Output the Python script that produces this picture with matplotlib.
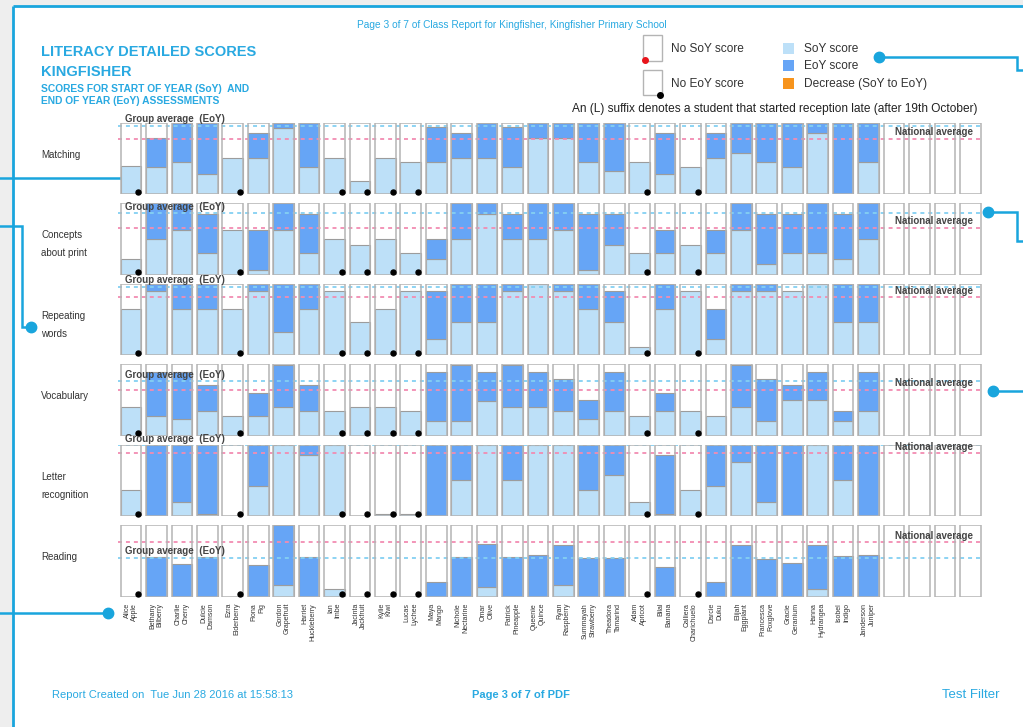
import numpy as np
import matplotlib
matplotlib.use("Agg")
import matplotlib.pyplot as plt
from matplotlib.patches import Rectangle

# ---------------- data ----------------
students = ["Alice\nApple", "Bethany\nBilberry", "Charlie\nCherry", "Dulcie\nDamson",
            "Ezra\nElderberry", "Fiona\nFig", "Gordon\nGrapefruit", "Harriet\nHuckleberry",
            "Ian\nImbe", "Jacinta\nJackfruit", "Kylie\nKiwi", "Lucas\nLychee",
            "Maya\nMango", "Nichole\nNectarine", "Omar\nOlive", "Patrick\nPineapple",
            "Queenie\nQuince", "Ryan\nRaspberry", "Summayah\nStrawberry", "Theadora\nTamarind",
            "Adam\nApricot", "Bilal\nBanana", "Calliera\nCharichuelo", "Darcie\nDuku",
            "Elijah\nEggplant", "Francesca\nFoxglove", "Gracie\nGeranium", "Hanna\nHydrangea",
            "Isobel\nIndigo", "Janderson\nJuniper"]
empty_slots = 4

skills = ["Matching", "Concepts\nabout print", "Repeating\nwords", "Vocabulary",
          "Letter\nrecognition", "Reading"]

matching_soy = [0.39, 0.38, 0.45, 0.28, 0.51, 0.51, 0.93, 0.38, 0.51, 0.18, 0.51, 0.45, 0.45, 0.51, 0.51,
                0.38, 0.78, 0.78, 0.45, 0.33, 0.45, 0.28, 0.38, 0.51, 0.57, 0.45, 0.38, 0.85, 0.00, 0.45]
matching_eoy = [None, 0.78, 1.0, 1.0, None, 0.86, 1.0, 1.0, None, None, None, None, 0.94, 0.86, 1.0,
                0.94, 1.0, 1.0, 1.0, 1.0, None, 0.86, None, 0.86, 1.0, 1.0, 1.0, 1.0, 1.0, 1.0]

concepts_soy = [0.22, 0.50, 0.62, 0.31, 0.62, 0.07, 0.62, 0.31, 0.50, 0.41, 0.50, 0.31, 0.22, 0.50, 0.85,
                0.50, 0.50, 0.62, 0.07, 0.41, 0.31, 0.31, 0.41, 0.31, 0.62, 0.15, 0.31, 0.31, 0.22, 0.50]
concepts_eoy = [None, 1.0, 1.0, 0.85, None, 0.62, 1.0, 0.85, None, None, None, None, 0.50, 1.0, 1.0,
                0.85, 1.0, 1.0, 0.85, 0.85, None, 0.62, None, 0.62, 1.0, 0.85, 0.85, 1.0, 0.85, 1.0]

repeating_soy = [0.64, 0.90, 0.64, 0.64, 0.64, 0.90, 0.33, 0.64, 0.90, 0.47, 0.64, 0.90, 0.22, 0.47, 0.47,
                 0.90, 1.0, 0.90, 0.64, 0.47, 0.11, 0.64, 0.90, 0.22, 0.90, 0.90, 0.90, 1.0, 0.47, 0.47]
repeating_eoy = [None, 1.0, 1.0, 1.0, None, 1.0, 1.0, 1.0, None, None, None, None, 0.90, 1.0, 1.0,
                 1.0, 1.0, 1.0, 1.0, 0.90, None, 1.0, None, 0.64, 1.0, 1.0, 0.90, 1.0, 1.0, 1.0]

vocab_soy = [0.40, 0.28, 0.24, 0.34, 0.28, 0.28, 0.40, 0.34, 0.34, 0.40, 0.40, 0.34, 0.21, 0.21, 0.49,
             0.40, 0.40, 0.34, 0.24, 0.34, 0.28, 0.34, 0.34, 0.28, 0.40, 0.21, 0.50, 0.50, 0.21, 0.34]
vocab_eoy = [None, 0.89, 0.89, 0.71, None, 0.60, 0.99, 0.71, None, None, None, None, 0.89, 0.99, 0.89,
             0.99, 0.89, 0.79, 0.50, 0.89, None, 0.60, None, 0.28, 0.99, 0.79, 0.71, 0.89, 0.34, 0.89]

letter_soy = [0.37, 0.0, 0.20, 0.03, 0.0, 0.42, 1.0, 0.85, 1.0, 0.0, 0.03, 0.03, 0.0, 0.50, 1.0,
              0.50, 1.0, 1.0, 0.37, 0.58, 0.20, 0.03, 0.37, 0.42, 0.76, 0.20, 0.0, 1.0, 0.50, 0.0]
letter_eoy = [None, 1.0, 1.0, 1.0, None, 1.0, 1.0, 1.0, None, None, None, None, 1.0, 1.0, 1.0,
              1.0, 1.0, 1.0, 1.0, 1.0, None, 0.85, None, 1.0, 1.0, 1.0, 1.0, 1.0, 1.0, 1.0]

reading_soy = [0.0, 0.0, 0.0, 0.0, 0.0, 0.0, 0.17, 0.0, 0.11, 0.0, 0.0, 0.0, 0.0, 0.0, 0.14,
               0.0, 0.0, 0.17, 0.0, 0.0, 0.0, 0.0, 0.0, 0.0, 0.0, 0.0, 0.0, 0.11, 0.0, 0.0]
reading_eoy = [None, 0.55, 0.46, 0.56, None, 0.44, 1.0, 0.55, None, None, None, None, 0.20, 0.55, 0.74,
               0.56, 0.59, 0.73, 0.54, 0.54, None, 0.42, None, 0.21, 0.73, 0.53, 0.47, 0.72, 0.57, 0.59]

group_avg = [0.96, 0.86, 0.96, 0.76, 0.99, 0.54]
national_avg = [0.77, 0.66, 0.81, 0.64, 0.88, 0.76]

soy_all = [matching_soy, concepts_soy, repeating_soy, vocab_soy, letter_soy, reading_soy]
eoy_all = [matching_eoy, concepts_eoy, repeating_eoy, vocab_eoy, letter_eoy, reading_eoy]

# ---------------- style ----------------
W, H = 1023, 727
plt.rcParams['font.family'] = ['Liberation Sans', 'DejaVu Sans']
C_TITLE = '#29a9e1'
C_LINE = '#19a5dd'
C_SOY = '#bde0f8'
C_EOY = '#66a5f6'
C_DEC = '#f7941d'
C_EDGE = '#b4b4b4'
C_GRP = '#84d0f2'
C_NAT = '#f28cb2'
C_TXT = '#333333'

fig = plt.figure(figsize=(W / 100, H / 100), dpi=100)
fig.patch.set_facecolor('#eeeeee')

bg = fig.add_axes([0, 0, 1, 1], zorder=-5)
bg.set_xlim(0, W)
bg.set_ylim(H, 0)
bg.axis('off')
bg.add_patch(Rectangle((13, 6), W, H, facecolor='white', edgecolor='none'))
# frame
bg.plot([13, W], [6, 6], color=C_LINE, lw=2.0, solid_capstyle='butt')
bg.plot([13, 13], [6, H], color=C_LINE, lw=2.0, solid_capstyle='butt')
# callout connectors
conn = dict(color=C_LINE, lw=1.8, solid_joinstyle='miter')
bg.plot([0, 126], [177.5, 177.5], **conn)
bg.plot([126], [177.5], 'o', color=C_LINE, ms=7.5)
bg.plot([0, 22, 22, 31], [226, 226, 326.5, 326.5], **conn)
bg.plot([31], [326.5], 'o', color=C_LINE, ms=7.5)
bg.plot([0, 108], [613, 613], **conn)
bg.plot([108], [613], 'o', color=C_LINE, ms=7.5)
bg.plot([879, 1017, 1017, W], [57, 57, 70, 70], **conn)
bg.plot([879], [57], 'o', color=C_LINE, ms=7.5)
bg.plot([988, 1017, 1017, W], [212, 212, 241, 241], **conn)
bg.plot([988], [212], 'o', color=C_LINE, ms=7.5)
bg.plot([993, W], [391, 391], **conn)
bg.plot([993], [391], 'o', color=C_LINE, ms=7.5)

# header texts
bg.text(512, 25, "Page 3 of 7 of Class Report for Kingfisher, Kingfisher Primary School",
        ha='center', va='center', fontsize=7.3, color=C_TITLE)
bg.text(41, 51.5, "LITERACY DETAILED SCORES", ha='left', va='center', fontsize=10.5,
        fontweight='bold', color=C_TITLE)
bg.text(41, 72, "KINGFISHER", ha='left', va='center', fontsize=10.5, fontweight='bold', color=C_TITLE)
bg.text(41, 88.5, "SCORES FOR START OF YEAR (SoY)  AND", ha='left', va='center', fontsize=7.4,
        fontweight='bold', color=C_TITLE)
bg.text(41, 101.5, "END OF YEAR (EoY) ASSESSMENTS", ha='left', va='center', fontsize=7.4,
        fontweight='bold', color=C_TITLE)

# legend
bg.add_patch(Rectangle((643, 35), 19, 25.5, facecolor='white', edgecolor=C_EDGE, lw=1))
bg.plot([644.5], [60], 'o', color='#e8141b', ms=4)
bg.add_patch(Rectangle((643, 70), 19, 25, facecolor='white', edgecolor=C_EDGE, lw=1))
bg.plot([659.5], [94.5], 'o', color='black', ms=4)
bg.text(671, 49.5, "No SoY score", ha='left', va='center', fontsize=8.6, color=C_TXT)
bg.text(671, 84, "No EoY score", ha='left', va='center', fontsize=8.6, color=C_TXT)
for yy, col, lab in [(48, C_SOY, "SoY score"), (65.5, C_EOY, "EoY score"),
                     (83, C_DEC, "Decrease (SoY to EoY)")]:
    bg.add_patch(Rectangle((783, yy - 5.5), 10.5, 11, facecolor=col, edgecolor='none'))
    bg.text(804, yy + 0.8, lab, ha='left', va='center', fontsize=8.6, color=C_TXT)
bg.text(977, 109, "An (L) suffix denotes a student that started reception late (after 19th October)",
        ha='right', va='center', fontsize=8.6, color='#222222')

# footer
bg.text(52, 695, "Report Created on  Tue Jun 28 2016 at 15:58:13", ha='left', va='center',
        fontsize=8, color=C_TITLE)
bg.text(521, 695, "Page 3 of 7 of PDF", ha='center', va='center', fontsize=8, fontweight='bold',
        color=C_TITLE)
bg.text(1000, 695, "Test Filter", ha='right', va='center', fontsize=9.5, color=C_TITLE)

# ---------------- panels ----------------
n_cols = len(students) + empty_slots
x_all = np.arange(n_cols)
x_st = np.arange(len(students))
bw = 0.814
ax_left, ax_right = 118.3, 983.0
panel_top0, pitch, panel_h = 122.7, 80.5, 71.5

for k, skill in enumerate(skills):
    top = panel_top0 + k * pitch
    ax = fig.add_axes([ax_left / W, 1 - (top + panel_h) / H, (ax_right - ax_left) / W, panel_h / H])
    ax.set_xlim(-0.5, n_cols - 0.5)
    ax.set_ylim(0, 1)
    ax.axis('off')
    soy = np.array(soy_all[k], dtype=float)
    eoy = np.array([np.nan if v is None else v for v in eoy_all[k]], dtype=float)

    ax.bar(x_all, 1.0, width=bw, color='white', edgecolor='none', zorder=1)
    ax.bar(x_st, soy, width=bw, color=C_SOY, edgecolor='#9c9c9c', lw=0.8, zorder=2)
    has = ~np.isnan(eoy)
    inc = has & (eoy > soy)
    dec = has & (eoy < soy)
    ax.bar(x_st[inc], (eoy - soy)[inc], bottom=soy[inc], width=bw, color=C_EOY,
           edgecolor='#9c9c9c', lw=0.8, zorder=2)
    if dec.any():
        ax.bar(x_st[dec], (soy - eoy)[dec], bottom=eoy[dec], width=bw, color=C_DEC,
               edgecolor='#9c9c9c', lw=0.8, zorder=2)
    ax.bar(x_all, 1.0, width=bw, fill=False, edgecolor=C_EDGE, lw=1.1, zorder=4)

    ax.axhline(group_avg[k], color=C_GRP, lw=1.3, ls=(0, (2.2, 2.2)), zorder=3)
    ax.axhline(national_avg[k], color=C_NAT, lw=1.3, ls=(0, (2.2, 2.2)), zorder=3)
    ax.annotate("Group average  (EoY)", xy=(-0.24, group_avg[k]), xytext=(0, 1.2),
                textcoords='offset points', ha='left', va='bottom', fontsize=7,
                fontweight='bold', color='#444444', annotation_clip=False, zorder=6)
    ax.annotate("National average", xy=(33.12, national_avg[k]), xytext=(0, 1.2),
                textcoords='offset points', ha='right', va='bottom', fontsize=7,
                fontweight='bold', color='#444444', annotation_clip=False, zorder=6)

    miss = np.isnan(eoy)
    ax.plot(x_st[miss] + 0.29, np.full(miss.sum(), 0.035), 'o', color='black', ms=3.6,
            zorder=7, clip_on=False)

    # row label
    cy = top + panel_h / 2 - 3.5
    for j, line in enumerate(skill.split("\n")):
        bg.text(41, cy + j * 18, line, ha='left', va='center', fontsize=7, color=C_TXT)

    if k == len(skills) - 1:
        for i, nm in enumerate(students):
            ax.annotate(nm, xy=(i, 0), xytext=(0, -4.5), textcoords='offset points',
                        rotation=90, ha='center', va='top', multialignment='right',
                        fontsize=5, color='#333333', linespacing=1.15, annotation_clip=False)

fig.savefig("out.png", dpi=100)
